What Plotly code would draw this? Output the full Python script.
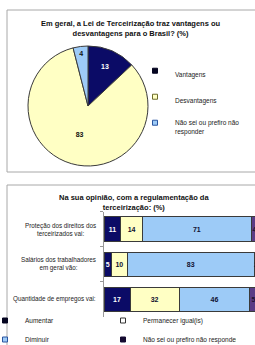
import plotly.graph_objects as go

W, H = 255, 345

# ---------------- data ----------------
pie_title = "Em geral, a Lei de Terceirização traz vantagens ou<br>desvantagens para o Brasil? (%)"
pie_labels = ["Vantagens", "Desvantagens", "Não sei ou prefiro não responder"]
pie_values = [13, 83, 4]

bar_title = "Na sua opinião, com a regulamentação da<br>terceirização: (%)"
bar_categories = ["Proteção dos direitos dos<br>terceirizados vai:",
                  "Salários dos trabalhadores<br>em geral vão:",
                  "Quantidade de empregos vai:"]
series_names = ["Aumentar", "Permanecer igual(is)", "Diminuir", "Não sei ou prefiro não responder"]
aumentar = [11, 5, 17]
permanecer = [14, 10, 32]
diminuir = [71, 83, 46]
nao_sei = [4, 2, 5]

# ---------------- styles ----------------
NAVY = "#0b0b66"
YELLOW = "#ffffc4"
LBLUE = "#9dcbf7"
PURPLE = "#5a3c86"
EDGE = "#3a3a3a"
FONT = "Liberation Sans"


def px(x):
    return x / W


def py(y):
    return 1 - y / H


fig = go.Figure()

# pie
fig.add_trace(go.Pie(
    labels=pie_labels, values=pie_values, sort=False, direction="clockwise", rotation=0,
    marker=dict(colors=[NAVY, YELLOW, LBLUE], line=dict(color=EDGE, width=1)),
    textinfo="value", textposition="inside", insidetextorientation="horizontal",
    textfont=dict(family=FONT, size=7, color=["white", "#111", "#111"], weight="bold"),
    domain=dict(x=[px(28), px(148)], y=[py(166), py(46)]),
    showlegend=False, hoverinfo="label+value",
))

# pie legend entries
pie_leg_names = [pie_labels[0], pie_labels[1], "Não sei ou prefiro não<br>responder"]
pie_sym_fill = ["#050520", YELLOW, LBLUE]
pie_sym_edge = ["#050520", "#6b6b2a", "#2a55a0"]
for i, n in enumerate(pie_leg_names):
    fig.add_trace(go.Scatter(
        x=[None], y=[None], mode="markers", name=n, legend="legend", legendgroup=f"p{i}",
        marker=dict(symbol="square", size=5, color=pie_sym_fill[i], line=dict(color=pie_sym_edge[i], width=1)),
        xaxis="x", yaxis="y",
    ))

# stacked bars
bar_series = [aumentar, permanecer, diminuir, nao_sei]
bar_colors = [NAVY, YELLOW, LBLUE, PURPLE]
txt_colors = ["white", "#101030", "#101030", "#1a1030"]
for name, vals, col, tc in zip(series_names, bar_series, bar_colors, txt_colors):
    fig.add_trace(go.Bar(
        y=bar_categories, x=vals, name=name, orientation="h",
        marker=dict(color=col, line=dict(color=EDGE, width=1)),
        text=vals, textposition="inside", insidetextanchor="middle", constraintext="none",
        textfont=dict(family=FONT, size=7, color=tc, weight="bold"),
        showlegend=False, xaxis="x", yaxis="y",
    ))

# bar legend entries
bar_sym_fill = ["#050520", "white", LBLUE, "#150a30"]
bar_sym_edge = ["#050520", "#333", "#2a55a0", "#150a30"]
for i, n in enumerate(series_names):
    fig.add_trace(go.Scatter(
        x=[None], y=[None], mode="markers", name=n, legend="legend2",
        marker=dict(symbol="square", size=5, color=bar_sym_fill[i], line=dict(color=bar_sym_edge[i], width=1)),
        xaxis="x", yaxis="y",
    ))

annotations = [
    dict(text="<b>" + pie_title + "</b>", x=px(131), y=py(28), xref="paper", yref="paper",
         xanchor="center", yanchor="middle",
         showarrow=False, font=dict(family=FONT, size=7.5, color="#111"), align="center"),
    dict(text="<b>" + bar_title + "</b>", x=px(134), y=py(202.5), xref="paper", yref="paper",
         xanchor="center", yanchor="middle",
         showarrow=False, font=dict(family=FONT, size=7.5, color="#111"), align="center"),
]
for c in bar_categories:
    annotations.append(dict(text=c, x=px(98), y=c, xref="paper", yref="y", xanchor="right",
                            yanchor="middle", align="center", showarrow=False,
                            font=dict(family=FONT, size=6.3, color="#222")))

shapes = [
    dict(type="rect", xref="paper", yref="paper", x0=px(7), x1=px(262), y0=py(172), y1=py(10),
         line=dict(color="#a8a8a8", width=1), layer="below"),
    dict(type="rect", xref="paper", yref="paper", x0=px(7), x1=px(262), y0=py(352), y1=py(185),
         line=dict(color="#a8a8a8", width=1), layer="below"),
]

fig.update_layout(
    width=W, height=H, margin=dict(l=0, r=0, t=0, b=0, autoexpand=False),
    paper_bgcolor="white", plot_bgcolor="white",
    barmode="stack", bargap=0.31,
    xaxis=dict(domain=[px(104), 1], range=[0, 98.4], visible=False, fixedrange=True),
    yaxis=dict(domain=[py(317), py(211.5)], type="category", autorange="reversed",
               showticklabels=False, showgrid=False, zeroline=False, fixedrange=True,
               showline=True, linecolor="#999", linewidth=1,
               ticks="outside", tickson="boundaries", ticklen=3, tickcolor="#999"),
    legend=dict(x=px(150), y=py(60), xanchor="left", yanchor="top", orientation="v",
                traceorder="grouped", tracegroupgap=7, valign="top", indentation=-15,
                font=dict(family=FONT, size=6.5, color="#222"), bgcolor="rgba(0,0,0,0)"),
    legend2=dict(x=0, y=py(306), xanchor="left", yanchor="top", orientation="h",
                 entrywidth=88, traceorder="normal", indentation=-15,
                 font=dict(family=FONT, size=6.5, color="#222"), bgcolor="rgba(0,0,0,0)"),
    annotations=annotations, shapes=shapes,
    font=dict(family=FONT),
)

fig.write_html("out.html", config={"displayModeBar": False},
               post_script="document.body.style.margin='0';")
